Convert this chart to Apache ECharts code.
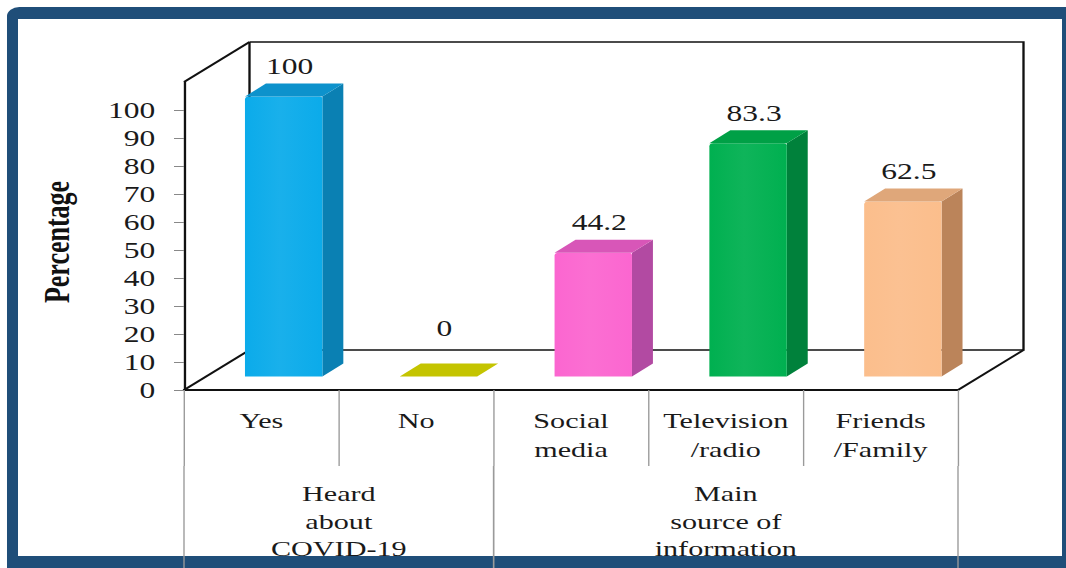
<!DOCTYPE html>
<html>
<head>
<meta charset="utf-8">
<script src="https://cdn.jsdelivr.net/npm/echarts@6/dist/echarts.min.js"></script>
<style>
  html, body { margin: 0; padding: 0; background: #ffffff; }
  #wrap { width: 1066px; height: 568px; overflow: hidden; position: relative; }
  #chart { width: 778px; height: 568px; transform-origin: 0 0; transform: scaleX(1.37018); }
</style>
</head>
<body>
<div id="wrap"><div id="chart"></div></div>
<script>
// ---- data ----
const categories = ['Yes', 'No', 'Social\nmedia', 'Television\n/radio', 'Friends\n/Family'];
const values = [100, 0, 44.2, 83.3, 62.5];
const groupNames = ['Heard\nabout\nCOVID-19', 'Main\nsource of\ninformation'];
const groupSpans = [[0, 1], [2, 4]];
const yTicks = [0, 10, 20, 30, 40, 50, 60, 70, 80, 90, 100];
const yMax = 110;

// ---- styles ----
const S = 1066 / 778;            // horizontal stretch of the picture
const DX = 65.5 / S, DY = -40;   // depth offset of the 3D box
const F0 = 0.34, F1 = 0.66;      // bar depth (front / back fraction)
const FONT = "'Liberation Serif', 'Times New Roman', serif";
const faceColors = [
  { front: '#0babea', side: '#0a80b3', top: '#0d92cc' },
  { front: '#c4c400', side: '#a8a800', top: '#c4c400' },
  { front: '#fb66d0', side: '#b24aa2', top: '#d856b8' },
  { front: '#00b050', side: '#00813b', top: '#00a046' },
  { front: '#fbbe8c', side: '#bb845a', top: '#dfa77a' }
];

const chart = echarts.init(document.getElementById('chart'), null, { renderer: 'svg' });

function wallsItem(params, api) {
  const n = categories.length;
  const bw = api.size([1, 0])[0];
  const a = api.coord([0, 0]), b = api.coord([n - 1, 0]), t = api.coord([0, yMax]);
  const xl = a[0] - bw / 2, xr = b[0] + bw / 2, yb = a[1], yt = t[1];
  const ln = { stroke: '#111', lineWidth: 1.7, fill: null };
  return {
    type: 'group',
    children: [
      { type: 'polyline', shape: { points: [[xl + DX, yt + DY], [xr + DX, yt + DY], [xr + DX, yb + DY], [xl + DX, yb + DY], [xl + DX, yt + DY]] }, style: ln },
      { type: 'line', shape: { x1: xl, y1: yt, x2: xl + DX, y2: yt + DY }, style: ln },
      { type: 'line', shape: { x1: xl, y1: yb, x2: xl + DX, y2: yb + DY }, style: ln },
      { type: 'line', shape: { x1: xr, y1: yb, x2: xr + DX, y2: yb + DY }, style: ln }
    ]
  };
}

function barItem(params, api) {
  const i = api.value(0), v = api.value(1);
  const base = api.coord([i, 0]), top = api.coord([i, v]);
  const bw = api.size([1, 0])[0] * 0.5;
  const xl = base[0] - bw / 2, xr = base[0] + bw / 2;
  const yb = base[1], yt = top[1];
  const o0 = [DX * F0, DY * F0], o1 = [DX * F1, DY * F1];
  const c = faceColors[i];
  const children = [];
  if (v > 0) {
    children.push({
      type: 'polygon',
      shape: { points: [[xr + o0[0], yt + o0[1]], [xr + o1[0], yt + o1[1]], [xr + o1[0], yb + o1[1]], [xr + o0[0], yb + o0[1]]] },
      style: { fill: c.side }
    });
    children.push({
      type: 'rect',
      shape: { x: xl + o0[0], y: yt + o0[1], width: bw, height: yb - yt, r: [3, 2, 0, 0] },
      style: {
        fill: new echarts.graphic.LinearGradient(0, 0, 1, 0, [
          { offset: 0, color: c.front },
          { offset: 0.45, color: echarts.color.lift(c.front, 0.06) },
          { offset: 1, color: c.front }
        ])
      }
    });
  }
  children.push({
    type: 'polygon',
    shape: { points: [[xl + o0[0], yt + o0[1]], [xr + o0[0], yt + o0[1]], [xr + o1[0], yt + o1[1]], [xl + o1[0], yt + o1[1]]] },
    style: { fill: c.top }
  });
  const gap = v > 0 ? 6 : 24;
  children.push({
    type: 'text',
    x: base[0] + o0[0] + 6 / S,
    y: yt + o1[1] - gap,
    style: {
      text: String(v), align: 'center', verticalAlign: 'bottom',
      font: '23px ' + FONT, fill: '#1a1a1a'
    }
  });
  return { type: 'group', children: children };
}

function groupItem(params, api) {
  const bw = api.size([1, 0])[0];
  const a = api.coord([api.value(0), 0]), b = api.coord([api.value(1), 0]);
  const L = a[0] - bw / 2, R = b[0] + bw / 2;
  const y0 = a[1] + 76, y1 = a[1] + 200;
  const ln = { stroke: '#9a9a9a', lineWidth: 1 };
  return {
    type: 'group',
    children: [
      { type: 'line', shape: { x1: L, y1: y0, x2: L, y2: y1 }, style: ln },
      { type: 'line', shape: { x1: R, y1: y0, x2: R, y2: y1 }, style: ln },
      {
        type: 'text', x: (L + R) / 2, y: a[1] + 90,
        style: {
          text: groupNames[params.dataIndex], align: 'center', verticalAlign: 'top',
          lineHeight: 27.5, font: '22px ' + FONT, fill: '#1a1a1a'
        }
      }
    ]
  };
}

const option = {
  backgroundColor: '#ffffff',
  animation: false,
  graphic: [
    { type: 'rect', z: -20, shape: { x: 7 / S, y: 7, width: 800, height: 600, r: 9 }, style: { fill: '#1f4e79' } },
    { type: 'rect', z: -19, shape: { x: 18 / S, y: 19, width: (1062 - 18) / S, height: 556 - 19 }, style: { fill: '#ffffff' } }
  ],
  grid: { left: 184 / S, right: (1066 - 958) / S, top: 82, bottom: 178 },
  xAxis: {
    type: 'category',
    data: categories,
    z: 5,
    axisLine: { lineStyle: { color: '#111', width: 1.8 } },
    axisTick: { show: true, length: 76, lineStyle: { color: '#9a9a9a', width: 1 } },
    axisLabel: { interval: 0, margin: 17, fontFamily: FONT, fontSize: 22, lineHeight: 28, color: '#1a1a1a', verticalAlign: 'top' },
    splitLine: { show: false }
  },
  yAxis: {
    type: 'value',
    min: 0, max: yMax, interval: 10,
    z: 5,
    name: 'Percentage',
    nameLocation: 'middle',
    nameGap: 80,
    nameRotate: 90,
    nameTextStyle: { fontFamily: FONT, fontSize: 26, fontWeight: 'bold', color: '#111', padding: [0, 12, 0, 0] },
    axisLine: { show: true, lineStyle: { color: '#111', width: 1.7 } },
    axisTick: { show: true, length: 10 / S, customValues: yTicks, lineStyle: { color: '#888', width: 1 } },
    axisLabel: { customValues: yTicks, margin: 21, fontFamily: FONT, fontSize: 23, color: '#1a1a1a' },
    splitLine: { show: false }
  },
  series: [
    { type: 'custom', name: 'walls', renderItem: wallsItem, data: [[0, 0]], z: 1, silent: true },
    { type: 'custom', name: 'bars', renderItem: barItem, data: values.map((v, i) => [i, v]), z: 3 },
    { type: 'custom', name: 'groups', renderItem: groupItem, data: groupSpans, clip: false, z: 3, silent: true }
  ]
};
chart.setOption(option);
</script>
</body>
</html>
